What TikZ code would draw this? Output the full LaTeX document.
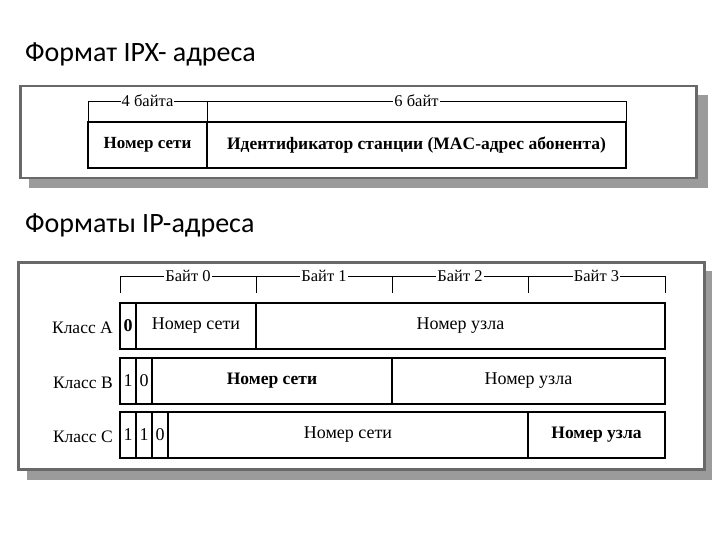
\documentclass[tikz,border=0pt]{standalone}
\usepackage{fontspec}
\setmainfont{Liberation Serif}
\newfontfamily\titlefont{Carlito}
\usetikzlibrary{positioning,calc}
\definecolor{framegray}{RGB}{105,105,105}
\definecolor{shadowgray}{RGB}{155,155,155}

\begin{document}
\begin{tikzpicture}[
    x=1pt, y=-1pt,
    title/.style={font=\titlefont\fontsize{28}{32}\selectfont, anchor=base west, inner sep=0pt},
    panel/.style={draw=framegray, line width=2.5pt, fill=white, anchor=north west, inner sep=0pt},
    shadowbox/.style={fill=shadowgray, anchor=north west, inner sep=0pt},
    cell/.style={draw, line width=1.4pt, anchor=north west, inner sep=0pt, outer sep=0pt,
      minimum height=46pt, font=\fontsize{18}{20}\selectfont},
    boldcell/.style={cell, font=\bfseries\fontsize{17.5}{20}\selectfont},
    bit/.style={cell, minimum width=16pt},
    bytelbl/.style={fill=white, inner sep=1pt, font=\fontsize{16.5}{18}\selectfont},
    cls/.style={anchor=east, inner sep=0pt, font=\fontsize{17.5}{19}\selectfont},
    bracket/.style={line width=0.9pt}
  ]
  \useasboundingbox (0,0) rectangle (720,540);

  %% ===== IPX address =====
  \node[title] (tipx) at (25,62) {Формат IPX- адреса};

  \node[shadowbox, minimum width=679pt, minimum height=93pt] (ipxshadow) at (29,95) {};
  \node[panel, minimum width=676pt, minimum height=92pt] (ipxpanel) at (19,85) {};

  \node[boldcell, minimum width=119pt, font=\bfseries\fontsize{17}{20}\selectfont]
    (ipxnet) at (88,122) {Номер сети};
  \node[boldcell, minimum width=419pt] (ipxmac) at (207,122)
    {Идентификатор станции (MAC-адрес абонента)};

  %% byte bracket
  \coordinate (i0) at (88,101);
  \coordinate (i1) at (207,101);
  \coordinate (i2) at (626,101);
  \draw[bracket] (i0) -- (i2);
  \draw[bracket] (i0) -- (ipxnet.north west);
  \draw[bracket] (i1) -- (ipxnet.north east);
  \draw[bracket] (i2) -- (ipxmac.north east);
  \node[bytelbl] (l4) at ($(i0)!0.5!(i1)$) {4 байта};
  \node[bytelbl] (l6) at ($(i1)!0.5!(i2)$) {6 байт};

  %% ===== IP address classes =====
  \node[title] (tip) at (25,233) {Форматы IP-адреса};

  \node[shadowbox, minimum width=685pt, minimum height=209pt] (ipshadow) at (27,271) {};
  \node[panel, minimum width=686pt, minimum height=207pt] (ippanel) at (17,261) {};

  %% byte bracket
  \coordinate (b0) at (120,276);
  \coordinate (b1) at (256,276);
  \coordinate (b2) at (392,276);
  \coordinate (b3) at (528,276);
  \coordinate (b4) at (665,276);
  \draw[bracket] (b0) -- (b4);
  \foreach \b in {b0,b1,b2,b3,b4}
    \draw[bracket] (\b) -- ++(0,17);
  \node[bytelbl] (y0) at ($(b0)!0.5!(b1)$) {Байт 0};
  \node[bytelbl] (y1) at ($(b1)!0.5!(b2)$) {Байт 1};
  \node[bytelbl] (y2) at ($(b2)!0.5!(b3)$) {Байт 2};
  \node[bytelbl] (y3) at ($(b3)!0.5!(b4)$) {Байт 3};

  %% Class A
  \node[bit, font=\bfseries\fontsize{18}{20}\selectfont] (a1) at (120,303) {0};
  \node[cell, minimum width=120pt] (anet) at (136,303) {Номер сети};
  \node[cell, minimum width=409pt] (ahost) at (256,303) {Номер узла};
  \node[cls] (ca) at ($(a1.west)+(-7,2)$) {Класс A};

  %% Class B
  \node[bit] (b1c) at (120,358) {1};
  \node[bit] (b2c) at (136,358) {0};
  \node[boldcell, minimum width=240pt] (bnet) at (152,358) {Номер сети};
  \node[cell, minimum width=273pt] (bhost) at (392,358) {Номер узла};
  \node[cls] (cb) at ($(b1c.west)+(-7,2)$) {Класс B};

  %% Class C
  \node[bit] (c1) at (120,412) {1};
  \node[bit] (c2) at (136,412) {1};
  \node[bit] (c3) at (152,412) {0};
  \node[cell, minimum width=360pt] (cnet) at (168,412) {Номер сети};
  \node[boldcell, minimum width=137pt] (chost) at (528,412) {Номер узла};
  \node[cls] (cc) at ($(c1.west)+(-7,2)$) {Класс C};
\end{tikzpicture}
\end{document}
